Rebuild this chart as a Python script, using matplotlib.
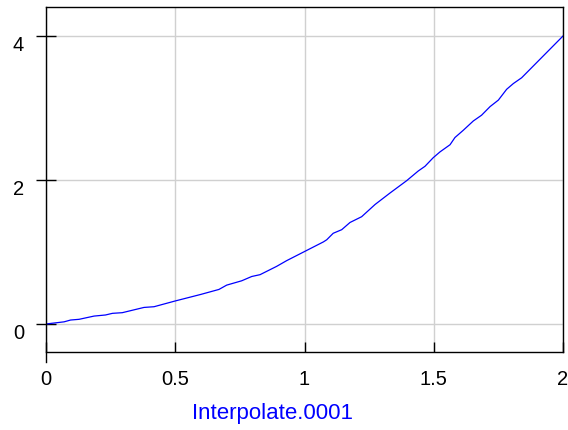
import matplotlib
matplotlib.use("Agg")
import matplotlib.pyplot as plt

# values
x_vals = [0.0, 0.07, 0.095, 0.128, 0.186, 0.23, 0.257, 0.295, 0.379, 0.418,
          0.50, 0.598, 0.669, 0.699, 0.757, 0.796, 0.828, 0.892, 0.931, 1.002,
          1.073, 1.086, 1.111, 1.144, 1.176, 1.221, 1.273, 1.331, 1.395, 1.44,
          1.466, 1.498, 1.524, 1.563, 1.582, 1.614, 1.653, 1.685, 1.718, 1.75,
          1.782, 1.808, 1.84, 1.92, 2.0]
y_vals = [0.0, 0.03, 0.055, 0.065, 0.11, 0.125, 0.148, 0.157, 0.23, 0.24,
          0.32, 0.41, 0.48, 0.54, 0.60, 0.66, 0.685, 0.80, 0.88, 1.01,
          1.14, 1.17, 1.26, 1.31, 1.41, 1.49, 1.66, 1.82, 1.99, 2.125,
          2.19, 2.31, 2.39, 2.49, 2.59, 2.69, 2.82, 2.90, 3.02, 3.11,
          3.26, 3.34, 3.42, 3.71, 4.0]
x_ticks = [0, 0.5, 1, 1.5, 2]
x_tick_labels = ["0", "0.5", "1", "1.5", "2"]
y_ticks = [0, 2, 4]
y_tick_labels = ["0", "2", "4"]
x_label = "Interpolate.0001"

plt.rcParams['font.family'] = ['Liberation Sans', 'DejaVu Sans']

fig = plt.figure(figsize=(5.68, 4.30), dpi=100)
ax = fig.add_axes([46/568, 1-352/430, (563-46)/568, (352-7)/430])

ax.plot(x_vals, y_vals, color='#0000ff', lw=0.9)

ax.set_xlim(0, 2)
ax.set_ylim(-0.389, 4.403)
ax.set_xticks(x_ticks)
ax.set_xticklabels(x_tick_labels)
ax.set_yticks(y_ticks)
ax.set_yticklabels(y_tick_labels, va='top')
ax.grid(True, color='#d0d0d0', lw=1)
ax.set_axisbelow(True)

ax.tick_params(axis='x', direction='in', length=7.2, width=1, pad=13, labelsize=14.5)
ax.tick_params(axis='y', direction='inout', length=14.4, width=1, pad=8.6, labelsize=14.5)
for s in ax.spines.values():
    s.set_linewidth(1)
ax.spines['left'].set_bounds(-0.53, 4.403)

fig.text(273/568, 1-414/430, x_label, color='#0000ff', fontsize=16,
         ha='center', va='center')

fig.savefig("out.png", dpi=100)
